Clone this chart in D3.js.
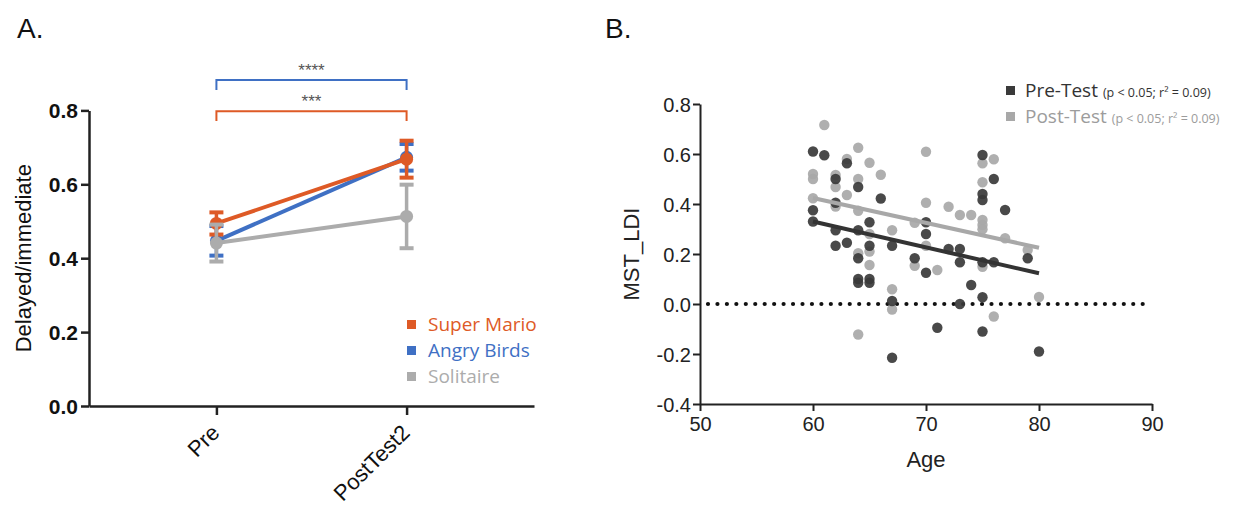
<!DOCTYPE html>
<html>
<head>
<meta charset="utf-8">
<script src="https://cdn.jsdelivr.net/npm/d3@7"></script>
<style>
  body { margin: 0; background: #fff; }
  svg { display: block; }
</style>
</head>
<body>
<div id="chart"></div>
<script>
// #region Panel A data
const sessions = ['Pre', 'PostTest2'];
const games = ['Super Mario', 'Angry Birds', 'Solitaire'];
const superMarioMeans = [0.494, 0.668];
const superMarioErr = [0.030, 0.050];
const angryBirdsMeans = [0.447, 0.673];
const angryBirdsErr = [0.040, 0.036];
const solitaireMeans = [0.441, 0.513];
const solitaireErr = [0.050, 0.086];
const sigLabels = ['****', '***'];
const sigLevels = [0.882, 0.798];
const ratioTicks = [0, 0.2, 0.4, 0.6, 0.8];
// #endregion

// #region Panel B data
const preAges = [60, 60, 60, 61, 62, 62, 62, 62, 63, 63, 64, 64, 64, 64, 64, 65, 65, 65, 65, 66, 67, 67, 67, 69,
  70, 70, 70, 71, 72, 73, 73, 73, 74, 75, 75, 75, 75, 75, 75, 76, 76, 77, 79, 80];
const preLDI = [0.61, 0.375, 0.33, 0.595, 0.50, 0.405, 0.295, 0.233, 0.563, 0.245, 0.468, 0.295, 0.183, 0.10, 0.085,
  0.327, 0.233, 0.10, 0.085, 0.422, 0.233, 0.012, -0.215, 0.183, 0.327, 0.28, 0.125, -0.095, 0.22, 0.22, 0.167, 0.0,
  0.076, 0.596, 0.44, 0.416, 0.167, 0.027, -0.11, 0.5, 0.167, 0.376, 0.183, -0.19];
const postAges = [60, 60, 60, 61, 62, 62, 62, 63, 63, 64, 64, 64, 64, 64, 65, 65, 65, 65, 66, 67, 67, 67, 69, 69,
  70, 70, 70, 71, 72, 73, 74, 75, 75, 75, 75, 75, 75, 76, 76, 77, 79, 80];
const postLDI = [0.52, 0.50, 0.423, 0.716, 0.516, 0.468, 0.39, 0.58, 0.436, 0.625, 0.50, 0.373, 0.203, -0.122,
  0.565, 0.28, 0.21, 0.156, 0.517, 0.295, 0.059, -0.022, 0.325, 0.153, 0.609, 0.405, 0.233, 0.136, 0.389, 0.356,
  0.356, 0.563, 0.487, 0.336, 0.316, 0.299, 0.149, 0.579, -0.05, 0.263, 0.216, 0.028];
const preFitAges = [60, 80];
const preFitLDI = [0.33, 0.123];
const postFitAges = [60, 80];
const postFitLDI = [0.424, 0.225];
const ageTicks = [50, 60, 70, 80, 90];
const ldiTicks = [-0.4, -0.2, 0, 0.2, 0.4, 0.6, 0.8];
const testNames = ['Pre-Test', 'Post-Test'];
const testStats = ['(p < 0.05; r² = 0.09)', '(p < 0.05; r² = 0.09)'];
// #endregion

const width = 1254;
const height = 508;
const helv = '"Liberation Sans", Arial, Helvetica, sans-serif';
const myriad = '"Open Sans", "Noto Sans", sans-serif';

const svg = d3.select('#chart').append('svg').attr('width', width).attr('height', height);
svg.append('rect').attr('width', width).attr('height', height).attr('fill', '#fff');

// #region Panel A
const gameColors = ['#de5a26', '#3f70c4', '#acacac'];
const gameSeries = [
  { name: games[0], means: superMarioMeans, err: superMarioErr, color: gameColors[0] },
  { name: games[1], means: angryBirdsMeans, err: angryBirdsErr, color: gameColors[1] },
  { name: games[2], means: solitaireMeans, err: solitaireErr, color: gameColors[2] },
];

const xA = d3.scalePoint().domain(sessions).range([89, 534]).padding(0.67);
const yA = d3.scaleLinear().domain([0, 0.8]).range([406, 110.4]);
const panelA = svg.append('g');

const axisLeftA = panelA.append('g')
  .attr('transform', 'translate(89,0)')
  .call(d3.axisLeft(yA).tickValues(ratioTicks).tickFormat(d3.format('.1f')).tickSize(8).tickSizeOuter(0));
axisLeftA.selectAll('path, line').attr('stroke', '#222').attr('stroke-width', 2.5);
axisLeftA.selectAll('text')
  .attr('x', -11).attr('dy', '0.36em')
  .style('font', `bold 21px ${helv}`).attr('fill', '#111');

const axisBottomA = panelA.append('g')
  .attr('transform', 'translate(0,406)')
  .call(d3.axisBottom(xA).tickSize(9).tickSizeOuter(0));
axisBottomA.selectAll('path, line').attr('stroke', '#222').attr('stroke-width', 2.5);
axisBottomA.selectAll('text')
  .attr('x', 0).attr('y', 0).attr('dy', 0)
  .attr('text-anchor', 'end')
  .attr('transform', 'translate(4,28) rotate(-45)')
  .style('font', `22px ${helv}`).attr('fill', '#111');

panelA.append('text')
  .text('Delayed/immediate')
  .attr('transform', `translate(31, ${yA(0.4)}) rotate(-90)`)
  .attr('text-anchor', 'middle')
  .style('font', `22px ${helv}`).attr('fill', '#111');

// significance brackets
const bracketColors = [gameColors[1], gameColors[0]];
sigLevels.forEach((lvl, i) => {
  const x0 = xA(sessions[0]);
  const x1 = xA(sessions[1]);
  const drop = 0.027;
  panelA.append('path')
    .attr('d', `M${x0},${yA(lvl - drop)}V${yA(lvl)}H${x1}V${yA(lvl - drop)}`)
    .attr('fill', 'none').attr('stroke', bracketColors[i]).attr('stroke-width', 2);
  panelA.append('text')
    .text(sigLabels[i])
    .attr('x', (x0 + x1) / 2).attr('y', yA(lvl) - 4)
    .attr('text-anchor', 'middle')
    .style('font', `17px ${helv}`).attr('fill', '#555');
});

const lineA = d3.line().x((d, i) => xA(sessions[i])).y(d => yA(d));
[1, 0, 2].forEach(k => {
  const s = gameSeries[k];
  const g = panelA.append('g');
  g.append('path').attr('d', lineA(s.means))
    .attr('fill', 'none').attr('stroke', s.color).attr('stroke-width', 4);
  s.means.forEach((m, i) => {
    const x = xA(sessions[i]);
    g.append('line')
      .attr('x1', x).attr('x2', x)
      .attr('y1', yA(m - s.err[i])).attr('y2', yA(m + s.err[i]))
      .attr('stroke', s.color).attr('stroke-width', 3.5);
    [m - s.err[i], m + s.err[i]].forEach(v => {
      g.append('line')
        .attr('x1', x - 7).attr('x2', x + 7)
        .attr('y1', yA(v)).attr('y2', yA(v))
        .attr('stroke', s.color).attr('stroke-width', 4);
    });
    g.append('circle').attr('cx', x).attr('cy', yA(m)).attr('r', 6.5).attr('fill', s.color);
  });
});

// legend A
gameSeries.forEach((s, i) => {
  const y = 331 + i * 26;
  panelA.append('rect')
    .attr('x', 407).attr('y', y - 11).attr('width', 9).attr('height', 9).attr('fill', s.color);
  panelA.append('text')
    .text(s.name)
    .attr('x', 428).attr('y', y)
    .style('font', `19px ${myriad}`).attr('fill', s.color);
});

svg.append('text').text('A.').attr('x', 17).attr('y', 38)
  .style('font', `28px ${helv}`).attr('fill', '#111');
// #endregion

// #region Panel B
const xB = d3.scaleLinear().domain([50, 90]).range([700, 1152]);
const yB = d3.scaleLinear().domain([-0.4, 0.8]).range([404, 104]);
const panelB = svg.append('g');
const darkDot = '#3a3a3a';
const lightDot = '#a8a8a8';

const axisLeftB = panelB.append('g')
  .attr('transform', 'translate(700,0)')
  .call(d3.axisLeft(yB).tickValues(ldiTicks).tickFormat(d => d.toFixed(1)).tickSize(7).tickSizeOuter(0));
axisLeftB.selectAll('path, line').attr('stroke', '#222').attr('stroke-width', 2);
axisLeftB.selectAll('text')
  .attr('x', -9).attr('dy', '0.36em')
  .style('font', `20px ${helv}`).attr('fill', '#222');

const axisBottomB = panelB.append('g')
  .attr('transform', 'translate(0,404)')
  .call(d3.axisBottom(xB).tickValues(ageTicks).tickSize(7).tickSizeOuter(0));
axisBottomB.selectAll('path, line').attr('stroke', '#222').attr('stroke-width', 2);
axisBottomB.selectAll('text')
  .attr('y', 13)
  .style('font', `20px ${helv}`).attr('fill', '#222');

panelB.append('text')
  .text('Age')
  .attr('x', xB(70)).attr('y', 467)
  .attr('text-anchor', 'middle')
  .style('font', `22px ${helv}`).attr('fill', '#222');
panelB.append('text')
  .text('MST_LDI')
  .attr('transform', `translate(639, ${yB(0.2)}) rotate(-90)`)
  .attr('text-anchor', 'middle')
  .style('font', `22px ${helv}`).attr('fill', '#222');

// dotted zero line
panelB.append('line')
  .attr('x1', xB(50) + 8).attr('x2', xB(89.4))
  .attr('y1', yB(0)).attr('y2', yB(0))
  .attr('stroke', '#111').attr('stroke-width', 4.2)
  .attr('stroke-linecap', 'round').attr('stroke-dasharray', '0 9.45');

const fitLine = d3.line().x(d => xB(d[0])).y(d => yB(d[1]));

panelB.append('g').selectAll('circle')
  .data(d3.zip(postAges, postLDI))
  .enter().append('circle')
  .attr('cx', d => xB(d[0])).attr('cy', d => yB(d[1])).attr('r', 5.2)
  .attr('fill', lightDot).attr('fill-opacity', 0.92);
panelB.append('g').selectAll('circle')
  .data(d3.zip(preAges, preLDI))
  .enter().append('circle')
  .attr('cx', d => xB(d[0])).attr('cy', d => yB(d[1])).attr('r', 5.2)
  .attr('fill', darkDot).attr('fill-opacity', 0.92);

panelB.append('path').attr('d', fitLine(d3.zip(postFitAges, postFitLDI)))
  .attr('fill', 'none').attr('stroke', lightDot).attr('stroke-width', 4);
panelB.append('path').attr('d', fitLine(d3.zip(preFitAges, preFitLDI)))
  .attr('fill', 'none').attr('stroke', '#333').attr('stroke-width', 4);

// legend B
const legendColors = [darkDot, lightDot];
const legendText = ['#333', '#9c9c9c'];
testNames.forEach((name, i) => {
  const y = 97 + i * 26;
  panelB.append('rect')
    .attr('x', 1006).attr('y', y - 11).attr('width', 9).attr('height', 9).attr('fill', legendColors[i]);
  const t = panelB.append('text')
    .attr('x', 1025).attr('y', y)
    .style('font', `19px ${myriad}`).attr('fill', legendText[i]);
  t.append('tspan').text(name + ' ');
  t.append('tspan').text(testStats[i]).style('font-size', '12.5px');
});

svg.append('text').text('B.').attr('x', 605).attr('y', 38)
  .style('font', `28px ${helv}`).attr('fill', '#111');
// #endregion
</script>
</body>
</html>
